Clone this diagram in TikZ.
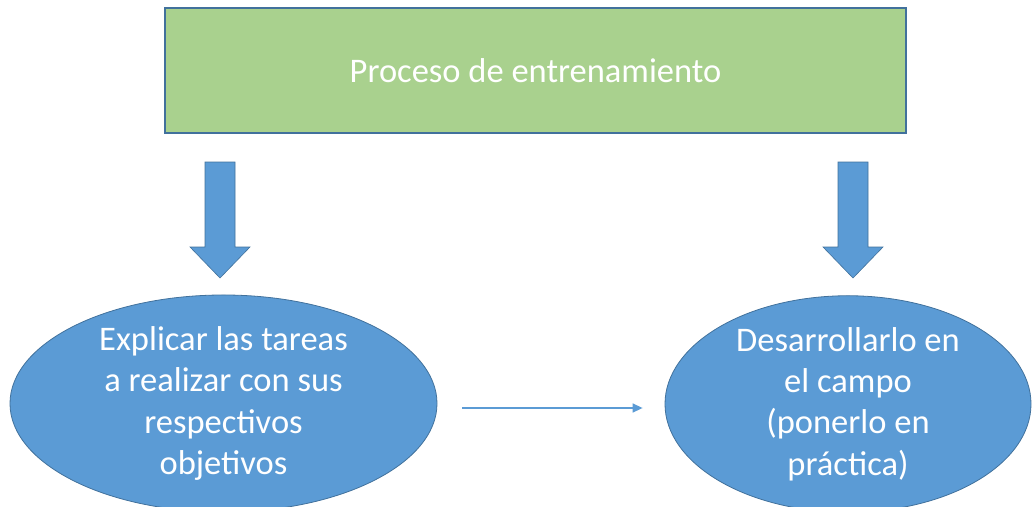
\documentclass[tikz,border=0pt]{standalone}
\usepackage{fontspec}
\setmainfont{Carlito}
\usetikzlibrary{shapes.geometric, positioning, arrows.meta}
\usepackage{xcolor}
\newcommand{\BigFont}{\fontsize{34.5}{41.2}\selectfont}
\newcommand{\DownArrow}[1]{%
  \draw[blockarrow] (#1) ++(-15,-58) -- ++(30,0) -- ++(0,85) -- ++(15,0)
    -- ++(-30,31) -- ++(-30,-31) -- ++(15,0) -- cycle;}
\definecolor{mygreen}{HTML}{A9D18E}
\definecolor{myblue}{HTML}{5B9BD5}
\definecolor{myedge}{HTML}{41719C}

\begin{document}
\begin{tikzpicture}[x=1pt,y=-1pt,
    box/.style={rectangle, draw=myedge, fill=mygreen, line width=1.2pt,
      minimum width=741pt, minimum height=125pt, text=white, font=\BigFont},
    oval/.style={ellipse, draw=myedge, fill=myblue, line width=0.8pt,
      inner sep=0pt, text=white, align=center, font=\BigFont},
    blockarrow/.style={draw=myedge, fill=myblue, line width=0.6pt},
    link/.style={-{Triangle[length=10pt,width=9pt]}, myblue, line width=1.4pt}]
  \useasboundingbox (0,0) rectangle (1033,506);

  \node[box] (train) at (535.5,70.5) {Proceso de entrenamiento};

  \node[oval, minimum width=427pt, minimum height=203pt] (tasks) at (223.5,403.5)
    {Explicar las tareas\\a realizar con sus\\respectivos\\objetivos};
  \node[oval, minimum width=366pt, minimum height=202pt] (field) at (848,404)
    {Desarrollarlo en\\el campo\\(ponerlo en\\práctica)};

  \coordinate (leftarr) at (220,220);
  \coordinate (rightarr) at (853,220);
  \DownArrow{leftarr}
  \DownArrow{rightarr}

  \draw[link, shorten <=25pt, shorten >=22pt] (tasks.east |- 0,408) -- (field.west |- 0,408);
\end{tikzpicture}
\end{document}
